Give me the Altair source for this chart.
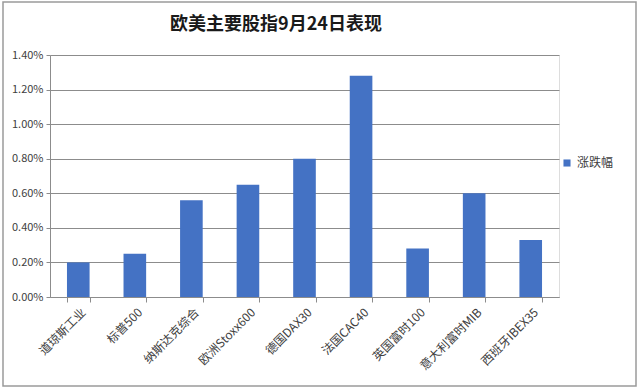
import altair as alt
import pandas as pd

categories = ["道琼斯工业", "标普500", "纳斯达克综合", "欧洲Stoxx600", "德国DAX30",
              "法国CAC40", "英国富时100", "意大利富时MIB", "西班牙IBEX35"]
values_pct = [0.20, 0.25, 0.56, 0.65, 0.80, 1.28, 0.28, 0.60, 0.33]
series_name = "涨跌幅"
title_text = "欧美主要股指9月24日表现"
y_ticks_pct = [0.0, 0.2, 0.4, 0.6, 0.8, 1.0, 1.2, 1.4]

df = pd.DataFrame({
    "index": categories,
    "value": [v / 100 for v in values_pct],
    "series": [series_name] * len(categories),
})

FONT = "Noto Sans CJK SC"
GRID = "#8c8c8c"

bars = alt.Chart(df).mark_bar(color="#4472C4").encode(
    x=alt.X("index:N", sort=categories, title=None,
            scale=alt.Scale(paddingInner=0.6, paddingOuter=0.3),
            axis=alt.Axis(labelAngle=-45, labelAlign="right", labelBaseline="middle",
                          tickBand="extent", tickSize=5, tickColor=GRID,
                          domainColor=GRID, labelFontSize=12, labelColor="#404040",
                          labelFont=FONT, labelPadding=8, labelOffset=5, grid=False)),
    y=alt.Y("value:Q", title=None,
            scale=alt.Scale(domain=[0, 0.014], nice=False),
            axis=alt.Axis(values=[t / 100 for t in y_ticks_pct], format=".2%",
                          grid=True, gridColor=GRID, gridOpacity=1,
                          tickSize=4, tickColor=GRID, domainColor=GRID,
                          labelFontSize=11, labelColor="#404040", labelFont=FONT,
                          labelPadding=3)),
    color=alt.Color("series:N", scale=alt.Scale(range=["#4472C4"]),
                    legend=alt.Legend(title=None, orient="none", legendX=511, legendY=102,
                                      symbolType="square", symbolSize=50,
                                      symbolStrokeWidth=0, labelFontSize=12,
                                      labelFont=FONT, labelColor="#404040", padding=0)),
)

first = alt.datum.index == categories[0]

border = alt.Chart(df).mark_rect(fill=None, stroke="#9a9a9a", strokeWidth=1.5, clip=False).encode(
    x=alt.value(-47), x2=alt.value(586), y=alt.value(-53), y2=alt.value(331)
).transform_filter(first)

title = alt.Chart(df).mark_text(font=FONT, fontSize=18, fontWeight="bold", color="#1a1a1a",
                                align="center", baseline="middle").encode(
    x=alt.value(226), y=alt.value(-30), text=alt.value(title_text)
).transform_filter(first)

chart = alt.layer(border, bars, title).properties(
    width=509, height=242,
    autosize=alt.AutoSizeParams(type="none"),
    padding={"left": 50, "top": 55, "right": 81, "bottom": 91},
).configure_view(stroke=None).configure(background="white")

chart.save("out.html", embed_options={"renderer": "svg", "actions": False})
